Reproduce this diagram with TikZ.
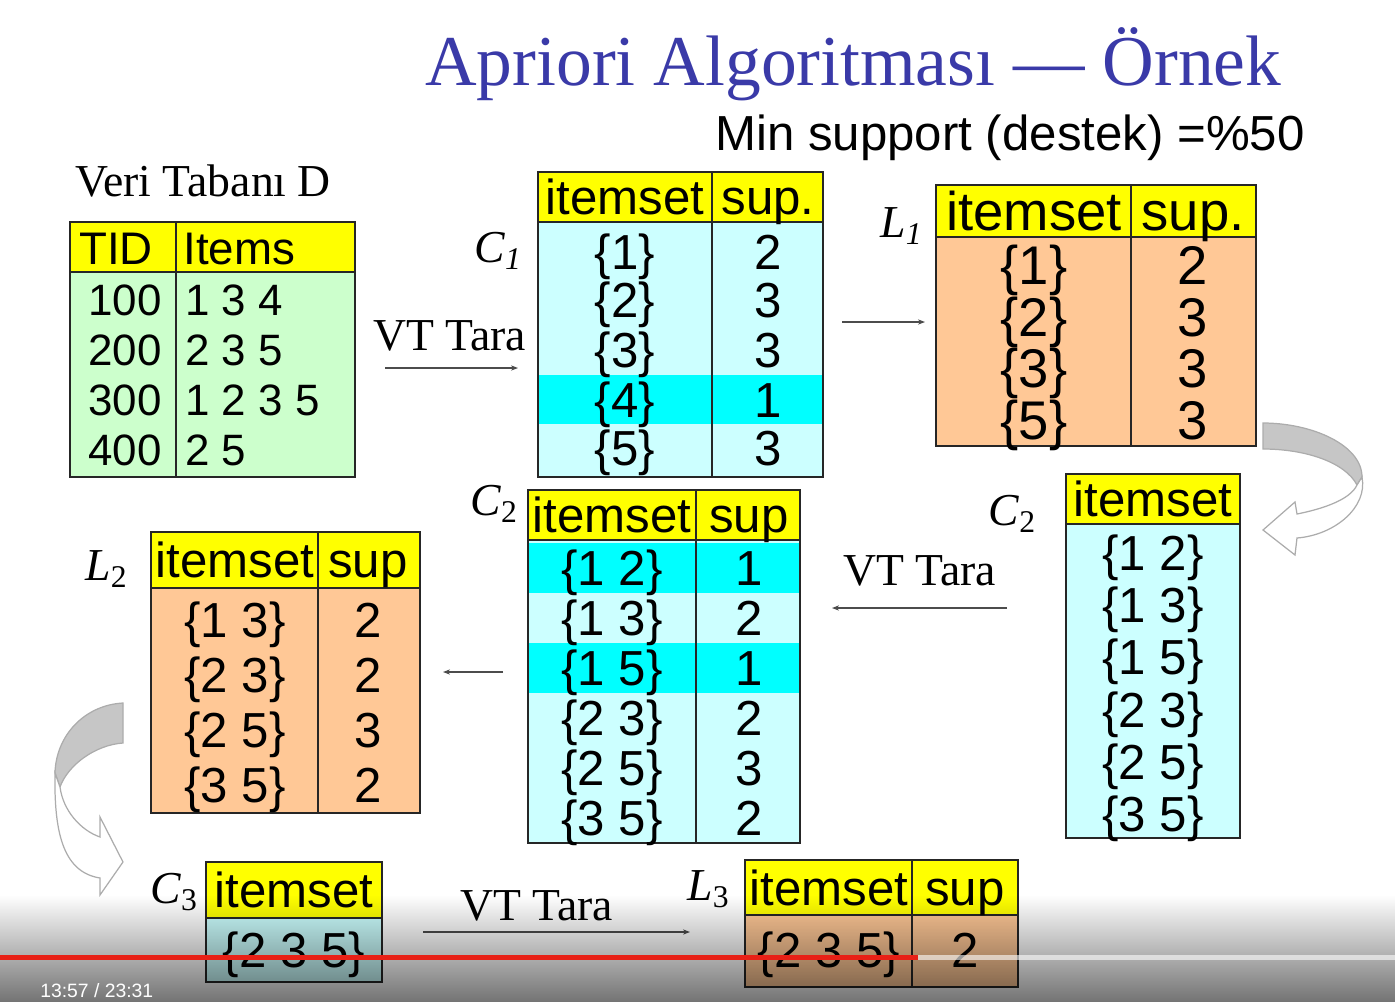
\documentclass[tikz,border=0pt]{standalone}
\usepackage{fontspec}
\setmainfont{Liberation Serif}
\newfontfamily\tabfont{Liberation Sans}
\usepackage{xcolor}
\definecolor{hdryellow}{RGB}{255,255,0}
\definecolor{dbgreen}{RGB}{204,255,204}
\definecolor{candcyan}{RGB}{204,255,255}
\definecolor{dropcyan}{RGB}{0,255,255}
\definecolor{freqorange}{RGB}{255,200,150}
\definecolor{titleblue}{RGB}{58,58,168}
\definecolor{barred}{RGB}{232,32,22}
\usetikzlibrary{
  arrows.meta,
  positioning,
  fadings
}
\tikzfading[name=playerfade, top color=transparent!100, bottom color=transparent!45]
\tikzset{
  tabline/.style={line width=1.2pt, black!85},
  cell/.style={font=\tabfont\fontsize{#1}{#1}\selectfont, inner sep=0pt, text height=0.716*#1pt, text depth=0pt},
  cell/.default=28,
  lbl/.style={font=\fontsize{26}{26}\selectfont, inner sep=0pt, anchor=base west},
  scan/.style={gray!60!black, line width=0.6pt, -{Stealth[length=4pt, width=3pt]}},
  curl/.style={draw=gray!65, line width=0.7pt}
}
\newcommand{\apname}[2]{\textit{#1}\raisebox{-0.35ex}{\fontsize{18}{18}\selectfont #2}}

\begin{document}
\begin{tikzpicture}[x=0.02cm, y=-0.02cm]
  \useasboundingbox (0,0) rectangle (1397,1002);

  % heading
  \node[lbl, font=\fontsize{40.7}{40.7}\selectfont, text=titleblue] (title) at (425,85) {Apriori Algoritması — Örnek};
  \node[lbl, font=\tabfont\fontsize{28}{28}\selectfont] (minsup) at (715,150) {Min support (destek) =\%50};

  % database D
  \node[lbl] (dbname) at (75,196) {Veri Tabanı D};
  \fill[hdryellow] (70,222) rectangle (355,272);
  \fill[dbgreen] (70,272) rectangle (355,477);
  \draw[tabline] (70,222) rectangle (355,477);
  \draw[tabline] (70,272) -- (355,272);
  \draw[tabline] (176,222) -- (176,477);
  \node[cell=26, anchor=west] (dtid) at (79,248) {TID};
  \node[cell=26, anchor=west] (ditems) at (183,248) {Items};
  \foreach \y/\tid/\items [count=\i] in {300/100/1 3 4, 350/200/2 3 5, 400/300/1 2 3 5, 450/400/2 5} {
    \node[cell=25, anchor=east] (tid\i) at (162,\y) {\tid};
    \node[cell=25, anchor=west] (items\i) at (185,\y) {\items};
  }

  % C1 - candidates after first scan
  \node[lbl] (nC1) at (474,262) {\apname{C}{\textit{1}}};
  \fill[hdryellow] (538,172) rectangle (823,222);
  \fill[candcyan] (538,222) rectangle (823,477);
  \fill[dropcyan] (538,375) rectangle (823,424);
  \draw[tabline] (538,172) rectangle (823,477);
  \draw[tabline] (538,222) -- (823,222);
  \draw[tabline] (712,172) -- (712,477);
  \node[cell] (c1h) at (625,197) {itemset};
  \node[cell] (c1s) at (768,197) {sup.};
  \foreach \y/\set/\n [count=\i] in {252/1/2, 300/2/3, 350/3/3, 400/4/1, 448/5/3} {
    \node[cell] (c1a\i) at (625,\y) {\{\set\}};
    \node[cell] (c1b\i) at (768,\y) {\n};
  }

  % L1 - frequent 1-itemsets
  \node[lbl] (nL1) at (880,237) {\apname{L}{\textit{1}}};
  \fill[hdryellow] (936,185) rectangle (1256,237);
  \fill[freqorange] (936,237) rectangle (1256,446);
  \draw[tabline] (936,185) rectangle (1256,446);
  \draw[tabline] (936,237) -- (1256,237);
  \draw[tabline] (1131,185) -- (1131,446);
  \node[cell=31] (l1h) at (1034,211) {itemset};
  \node[cell=31] (l1s) at (1193,211) {sup.};
  \foreach \y/\set/\n [count=\i] in {265/1/2, 317/2/3, 368/3/3, 420/5/3} {
    \node[cell=31] (l1a\i) at (1034,\y) {\{\set\}};
    \node[cell=31] (l1b\i) at (1193,\y) {\n};
  }

  % C2 - generated pairs (right)
  \node[lbl] (nC2r) at (988,525) {\apname{C}{2}};
  \fill[hdryellow] (1066,474) rectangle (1240,524);
  \fill[candcyan] (1066,524) rectangle (1240,838);
  \draw[tabline] (1066,474) rectangle (1240,838);
  \draw[tabline] (1066,524) -- (1240,524);
  \node[cell] (c2rh) at (1153,499) {itemset};
  \foreach \y/\set [count=\i] in {553/1 2, 605/1 3, 657/1 5, 710/2 3, 762/2 5, 814/3 5} {
    \node[cell] (c2r\i) at (1153,\y) {\{\set\}};
  }

  % C2 - counted pairs (middle)
  \node[lbl] (nC2m) at (470,515) {\apname{C}{2}};
  \fill[hdryellow] (528,490) rectangle (800,540);
  \fill[candcyan] (528,540) rectangle (800,843);
  \fill[dropcyan] (528,543) rectangle (800,593);
  \fill[dropcyan] (528,643) rectangle (800,693);
  \draw[tabline] (528,490) rectangle (800,843);
  \draw[tabline] (528,540) -- (800,540);
  \draw[tabline] (696,490) -- (696,843);
  \node[cell] (c2mh) at (612,515) {itemset};
  \node[cell] (c2ms) at (749,515) {sup};
  \foreach \y/\set/\n [count=\i] in {568/1 2/1, 618/1 3/2, 668/1 5/1, 718/2 3/2, 768/2 5/3, 818/3 5/2} {
    \node[cell] (c2ma\i) at (612,\y) {\{\set\}};
    \node[cell] (c2mb\i) at (749,\y) {\n};
  }

  % L2 - frequent pairs
  \node[lbl] (nL2) at (85,580) {\apname{L}{2}};
  \fill[hdryellow] (151,532) rectangle (420,588);
  \fill[freqorange] (151,588) rectangle (420,813);
  \draw[tabline] (151,532) rectangle (420,813);
  \draw[tabline] (151,588) -- (420,588);
  \draw[tabline] (318,532) -- (318,813);
  \node[cell] (l2h) at (235,560) {itemset};
  \node[cell] (l2s) at (368,560) {sup};
  \foreach \y/\set/\n [count=\i] in {620/1 3/2, 675/2 3/2, 730/2 5/3, 785/3 5/2} {
    \node[cell] (l2a\i) at (235,\y) {\{\set\}};
    \node[cell] (l2b\i) at (368,\y) {\n};
  }

  % C3 and L3
  \node[lbl] (nC3) at (150,903) {\apname{C}{3}};
  \fill[hdryellow] (206,862) rectangle (382,918);
  \fill[candcyan] (206,918) rectangle (382,982);
  \draw[tabline] (206,862) rectangle (382,982);
  \draw[tabline] (206,918) -- (382,918);
  \node[cell] (c3h) at (294,890) {itemset};
  \node[cell] (c3a) at (294,950) {\{2 3 5\}};

  \node[lbl] (nL3) at (687,900) {\apname{L}{3}};
  \fill[hdryellow] (745,860) rectangle (1018,915);
  \fill[freqorange] (745,915) rectangle (1018,987);
  \draw[tabline] (745,860) rectangle (1018,987);
  \draw[tabline] (745,915) -- (1018,915);
  \draw[tabline] (912,860) -- (912,987);
  \node[cell] (l3h) at (829,888) {itemset};
  \node[cell] (l3s) at (965,888) {sup};
  \node[cell] (l3a) at (829,950) {\{2 3 5\}};
  \node[cell] (l3b) at (965,950) {2};

  % scans and prune steps
  \node[lbl] (scan1) at (373,350) {VT Tara};
  \node[lbl] (scan2) at (843,585) {VT Tara};
  \node[lbl] (scan3) at (460,920) {VT Tara};
  \coordinate (s1a) at (385,368);  \coordinate (s1b) at (518,368);
  \coordinate (s2a) at (842,322);  \coordinate (s2b) at (925,322);
  \coordinate (s3a) at (1007,608); \coordinate (s3b) at (832,608);
  \coordinate (s4a) at (503,672);  \coordinate (s4b) at (443,672);
  \coordinate (s5a) at (423,932);  \coordinate (s5b) at (690,932);
  \draw[scan] (s1a) -- (s1b);
  \draw[scan] (s2a) -- (s2b);
  \draw[scan] (s3a) -- (s3b);
  \draw[scan] (s4a) -- (s4b);
  \draw[scan] (s5a) -- (s5b);

  % curled arrow, right (L1 -> C2)
  \filldraw[curl, fill=gray!45] (1263,423) .. controls (1312,423) and (1362,445) .. (1362,477)
    -- (1357,485) .. controls (1345,462) and (1305,449) .. (1263,449) -- cycle;
  \filldraw[curl, fill=white] (1362,477) .. controls (1368,507) and (1335,535) .. (1297,538)
    -- (1295,555) -- (1263,530) -- (1295,502) -- (1297,514)
    .. controls (1322,509) and (1350,500) .. (1357,485) -- cycle;

  % curled arrow, left (L2 -> C3)
  \filldraw[curl, fill=gray!45] (123,703) .. controls (85,705) and (56,735) .. (55,773)
    -- (60,787) .. controls (68,765) and (95,745) .. (123,743) -- cycle;
  \filldraw[curl, fill=white] (55,773) .. controls (54,830) and (62,872) .. (100,878)
    -- (100,895) -- (123,862) -- (100,817) -- (100,837)
    .. controls (80,830) and (63,810) .. (60,787) -- cycle;

  % player bar over the bottom
  \fill[black, path fading=playerfade] (0,895) rectangle (1397,1002);
  \fill[white, opacity=0.6] (918,955) rectangle (1397,960);
  \fill[barred] (0,955) rectangle (918,960);
  \node[anchor=base west, font=\tabfont\fontsize{11}{11}\selectfont, text=white, inner sep=0pt] (clock) at (40,997) {13:57 / 23:31};

\end{tikzpicture}
\end{document}
